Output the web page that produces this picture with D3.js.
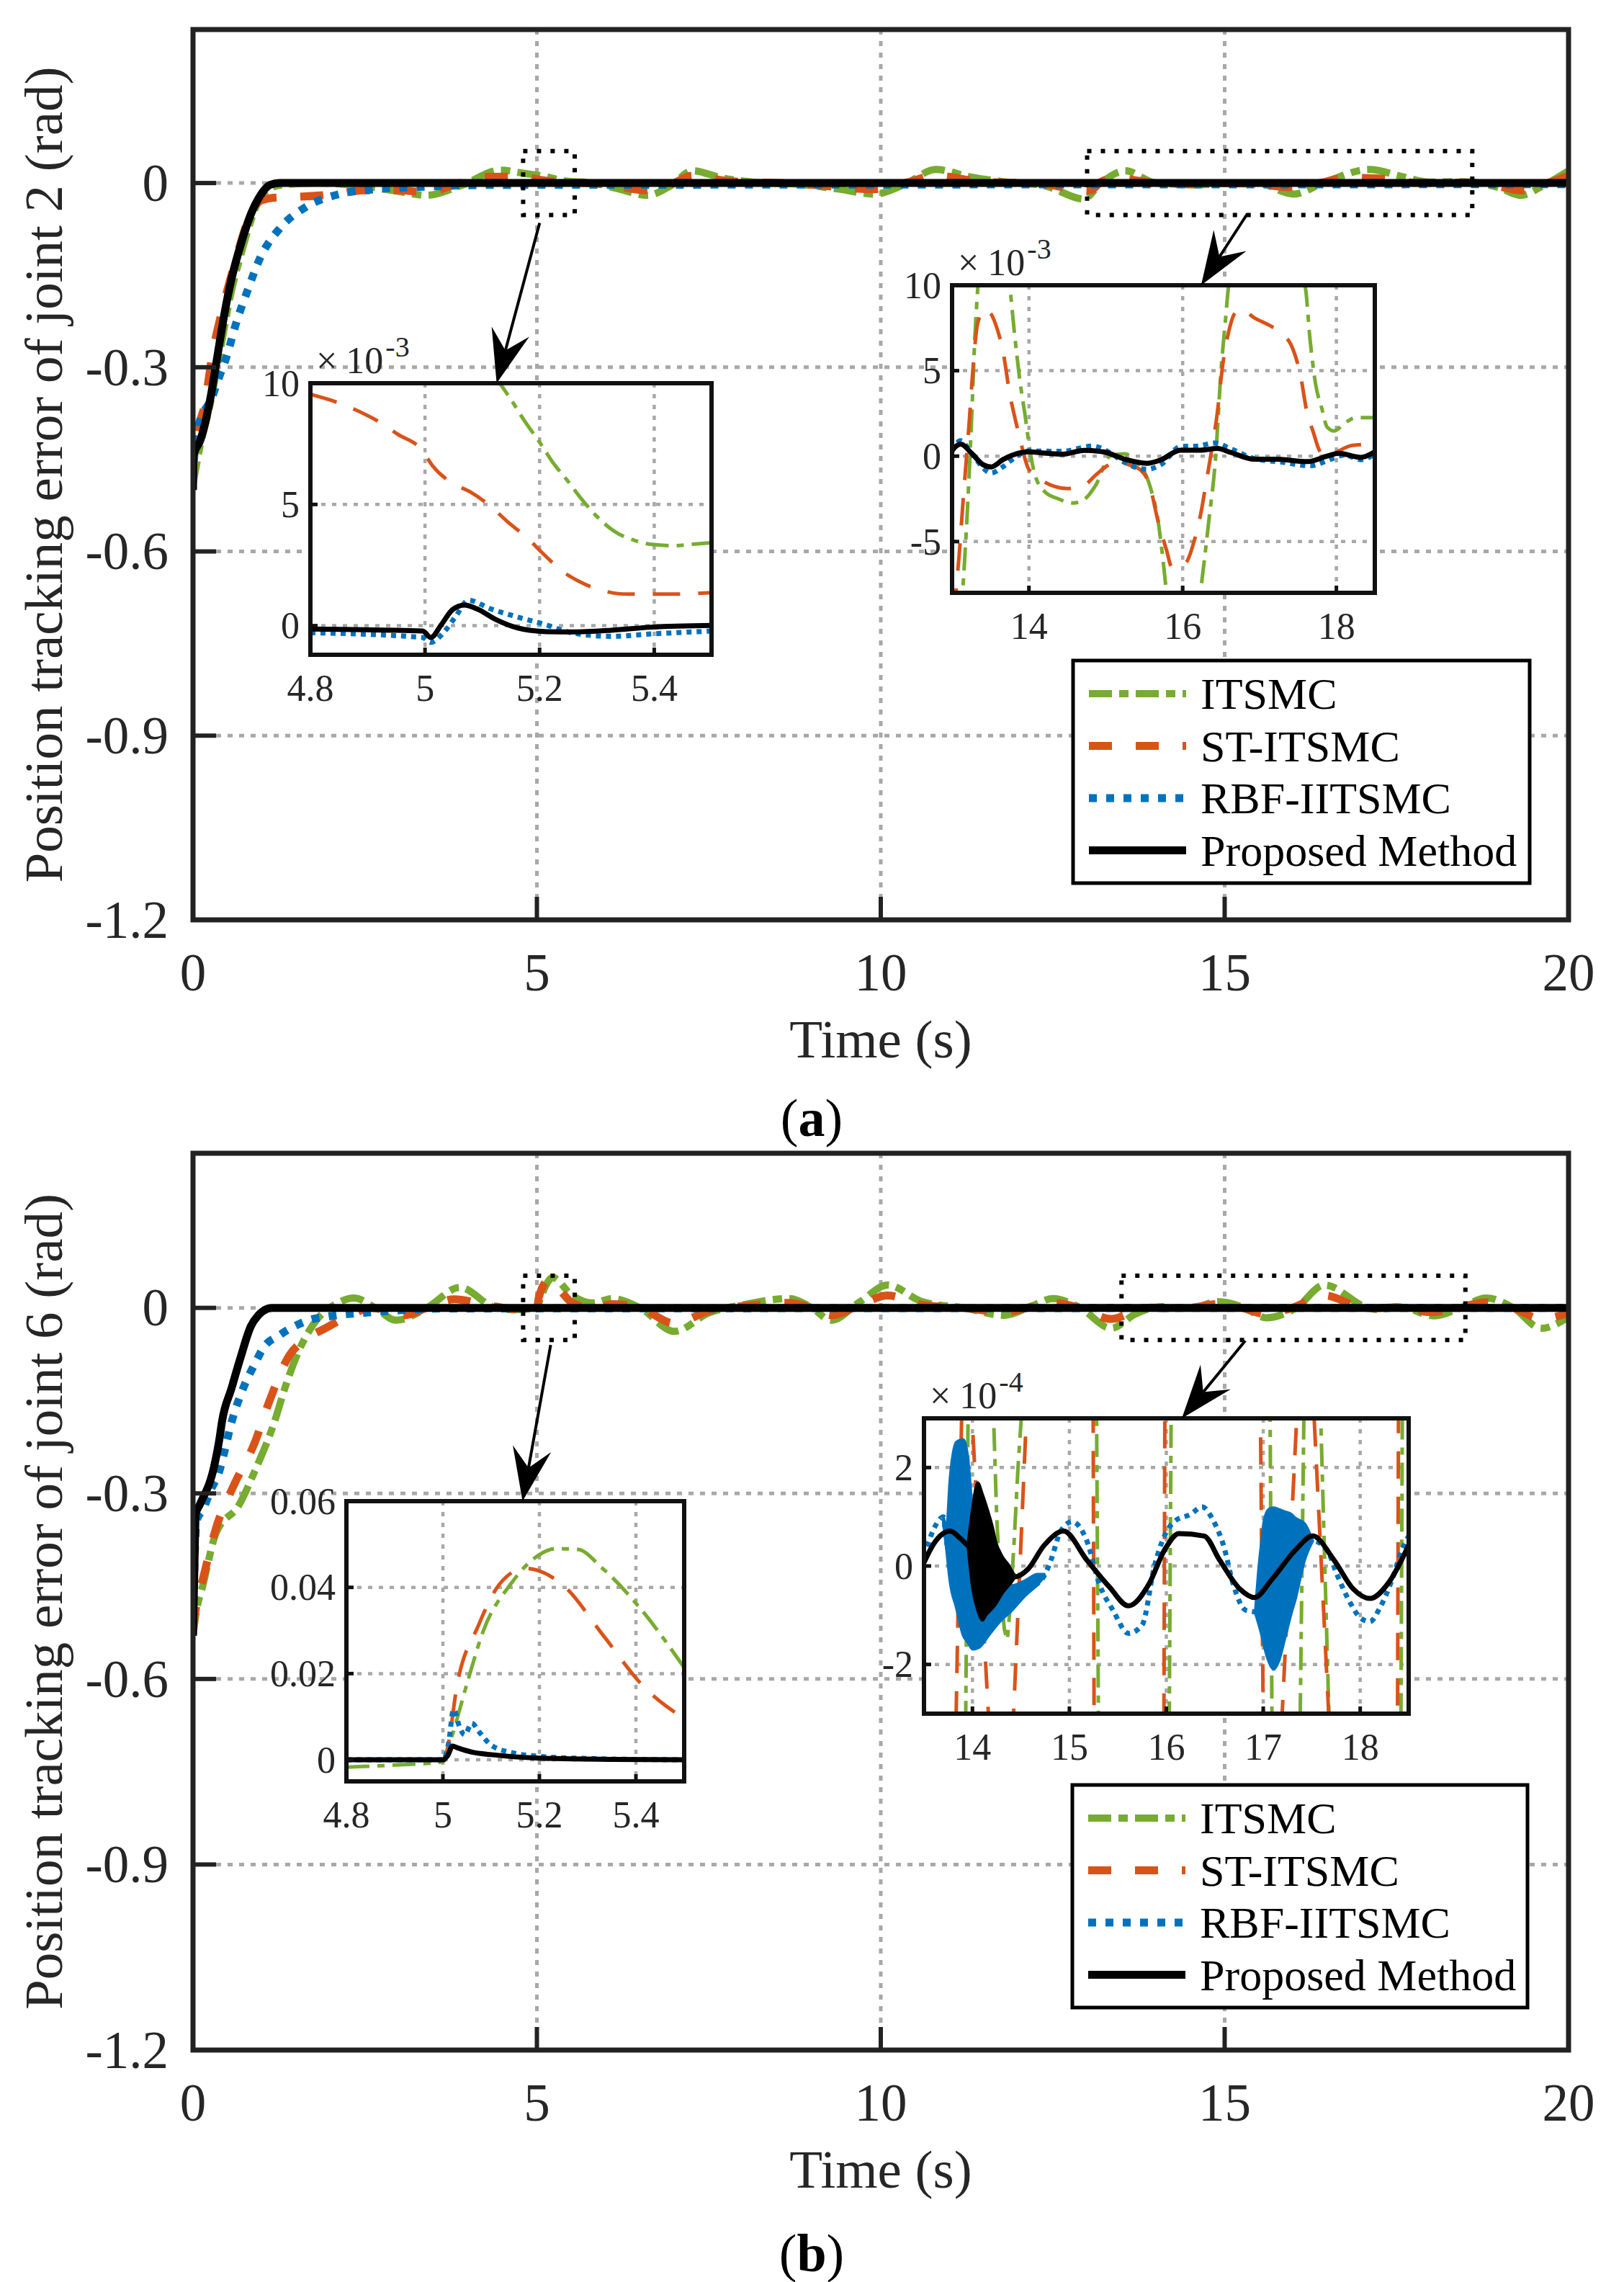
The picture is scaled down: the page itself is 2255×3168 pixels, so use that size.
<!DOCTYPE html>
<html><head><meta charset="utf-8">
<script src="https://cdn.jsdelivr.net/npm/d3@7"></script>
<style>
body{margin:0;background:#fff}
svg{display:block}
text{font-family:"Liberation Serif","Times New Roman",Times,serif;fill:#000}
</style>
</head><body>
<svg id="c" width="2255" height="3168"></svg>
<script>
// ---------------- DATA ----------------
const seriesNames = ["ITSMC", "ST-ITSMC", "RBF-IITSMC", "Proposed Method"];
const xTicksMain = [0, 5, 10, 15, 20];
const yTicksMain = [-1.2, -0.9, -0.6, -0.3, 0];
const xTicksInsetLeft = [4.8, 5, 5.2, 5.4];
const yTicksInsetA1 = [0, 5, 10];
const xTicksInsetA2 = [14, 16, 18];
const yTicksInsetA2 = [-5, 0, 5, 10];
const yTicksInsetB1 = [0, 0.02, 0.04, 0.06];
const xTicksInsetB2 = [14, 15, 16, 17, 18];
const yTicksInsetB2 = [-2, 0, 2];

// Panel (a) main, joint 2 (rad)
const a_ITSMC = [[0,-0.49],[0.1,-0.43],[0.25,-0.36],[0.4,-0.27],[0.55,-0.18],[0.7,-0.115],[0.84,-0.062],[0.95,-0.03],[1.1,-0.01],[1.3,-0.003],[1.8,0.0],[2.4,-0.004],[2.9,-0.012],[3.4,-0.02],[3.9,-0.004],[4.47,0.021],[4.8,0.016],[5.15,0.01],[5.4,0.0033],[5.8,0.0005],[6.2,-0.01],[6.6,-0.02],[6.95,-0.004],[7.26,0.02],[7.7,0.008],[8.2,0.001],[8.8,-0.002],[9.4,-0.01],[9.9,-0.018],[10.35,-0.002],[10.8,0.022],[11.3,0.01],[11.8,0.002],[12.4,-0.005],[12.95,-0.026],[13.2,0.0],[13.55,0.02],[14.0,0.0],[14.6,-0.0027],[15.2,0.0],[15.55,-0.002],[16.0,-0.018],[16.43,0.0],[17.1,0.022],[17.6,0.01],[17.97,0.0015],[18.5,0.0023],[19.0,-0.008],[19.3,-0.02],[19.65,-0.003],[20,0.02]];
const a_ST = [[0,-0.48],[0.03,-0.43],[0.178,-0.356],[0.276,-0.283],[0.42,-0.209],[0.597,-0.135],[0.79,-0.064],[0.9,-0.038],[1.0,-0.028],[1.21,-0.0235],[1.37,-0.023],[2.06,-0.018],[2.48,-0.012],[3.0,-0.012],[3.4,-0.015],[3.8,-0.003],[4.2,0.01],[4.6,0.0105],[4.8,0.0095],[5.2,0.003],[5.5,0.0013],[6.0,-0.002],[6.6,-0.012],[6.95,-0.002],[7.26,0.012],[7.8,0.003],[8.8,-0.001],[9.9,-0.01],[10.35,0.0],[10.8,0.012],[11.4,0.003],[12.4,-0.002],[12.8,-0.01],[13.05,-0.012],[13.2,0.0018],[13.42,0.0086],[13.75,0.0037],[14.0,-0.0007],[14.5,-0.0019],[15.0,-0.0005],[15.4,-0.0008],[15.9,-0.0065],[16.4,0.0004],[16.76,0.0086],[17.3,0.0072],[17.84,0],[18.5,0.0007],[19.0,-0.006],[19.3,-0.012],[19.7,0.0],[20,0.012]];
const a_RBF = [[0,-0.48],[0.02,-0.44],[0.07,-0.40],[0.28,-0.348],[0.39,-0.313],[0.49,-0.282],[0.63,-0.227],[0.79,-0.176],[0.98,-0.121],[1.26,-0.074],[1.64,-0.039],[2.13,-0.018],[2.66,-0.01],[3.35,-0.006],[4.5,-0.003],[20,-0.002]];
const a_PROP = [[0,-0.50],[0.005,-0.445],[0.11,-0.418],[0.25,-0.352],[0.35,-0.285],[0.46,-0.211],[0.56,-0.156],[0.70,-0.098],[0.84,-0.051],[0.98,-0.02],[1.12,-0.003],[1.26,0],[20,0]];

// Panel (a) inset 4.8-5.5 s (x1e-3)
const a1_ITSMC = [[4.8,16],[5.0,12.5],[5.1,10.7],[5.13,10.0],[5.152,9.25],[5.175,8.4],[5.199,7.6],[5.224,6.7],[5.248,6.0],[5.274,5.2],[5.3,4.5],[5.33,3.9],[5.368,3.5],[5.396,3.35],[5.434,3.3],[5.467,3.36],[5.5,3.42]];
const a1_ST = [[4.8,9.54],[4.848,9.2],[4.879,8.9],[4.924,8.35],[4.952,7.9],[4.994,7.26],[5.013,6.6],[5.048,5.87],[5.079,5.52],[5.119,4.83],[5.142,4.33],[5.182,3.54],[5.203,3.04],[5.243,2.19],[5.271,1.8],[5.318,1.4],[5.354,1.3],[5.434,1.3],[5.5,1.36]];
const a1_RBF = [[4.8,-0.29],[4.996,-0.49],[5.01,-0.69],[5.034,-0.24],[5.053,0.36],[5.076,1.05],[5.114,0.7],[5.161,0.36],[5.208,0.06],[5.255,-0.29],[5.325,-0.44],[5.396,-0.34],[5.5,-0.22]];
const a1_PROP = [[4.8,-0.14],[4.996,-0.22],[5.01,-0.49],[5.029,0.06],[5.048,0.66],[5.069,0.85],[5.09,0.7],[5.123,0.26],[5.161,-0.09],[5.208,-0.24],[5.255,-0.26],[5.325,-0.19],[5.396,-0.06],[5.5,0.01]];

// Panel (a) inset 13-18.5 s (x1e-3)
const a2_ITSMC = [[13.0,-12],[13.1,-10.5],[13.147,-7.3],[13.2,-3.1],[13.257,2.5],[13.294,6.7],[13.337,10],[13.45,14],[13.6,14],[13.75,10],[13.807,7.4],[13.88,4.5],[13.954,2.25],[14.01,0.42],[14.08,-1.12],[14.21,-2.1],[14.36,-2.46],[14.58,-2.74],[14.72,-2.53],[14.87,-1.69],[15.055,0],[15.24,0.14],[15.385,-0.28],[15.57,-1.69],[15.68,-3.8],[15.75,-6.3],[15.79,-8],[16.0,-12],[16.2,-9],[16.23,-8],[16.34,-3.8],[16.43,0],[16.5,5.06],[16.56,8.1],[16.6,10],[17.0,14],[17.59,10],[17.66,6.7],[17.73,4.2],[17.81,2.8],[17.88,1.7],[17.97,1.47],[18.1,1.9],[18.25,2.25],[18.5,2.25]];
const a2_ST = [[13.0,-12],[13.05,-8],[13.09,-5.9],[13.147,-2.4],[13.22,1.8],[13.275,5.3],[13.33,7.7],[13.42,8.6],[13.495,8.4],[13.59,7.4],[13.66,6.2],[13.75,3.65],[13.83,2.0],[13.9,0.7],[13.99,-0.7],[14.14,-1.33],[14.32,-1.76],[14.5,-1.9],[14.72,-1.7],[14.87,-1.1],[15.02,-0.56],[15.15,-0.3],[15.3,-0.5],[15.46,-0.84],[15.57,-1.7],[15.68,-3.8],[15.79,-5.5],[15.86,-6.5],[15.94,-6.5],[16.05,-6.2],[16.16,-4.8],[16.23,-3.5],[16.3,-1.7],[16.38,0.42],[16.45,2.5],[16.52,5.3],[16.6,7.3],[16.67,8.3],[16.76,8.6],[16.93,8.1],[17.15,7.6],[17.29,7.2],[17.44,6.2],[17.53,4.8],[17.62,2.5],[17.7,1.4],[17.77,0.42],[17.84,0],[17.95,0.14],[18.21,0.63],[18.5,0.7]];
const a2_RBF = [[13.0,0.28],[13.11,0.9],[13.26,0.1],[13.51,-0.98],[13.66,-0.63],[13.84,0],[13.99,0.3],[14.43,0.28],[14.83,0.59],[15.05,0.21],[15.24,-0.35],[15.53,-0.77],[15.72,-0.49],[15.97,0.56],[16.2,0.59],[16.41,0.77],[16.63,0.42],[16.93,-0.14],[17.29,-0.35],[17.66,-0.56],[17.95,-0.14],[18.1,0.07],[18.32,-0.21],[18.5,0.14]];
const a2_PROP = [[13.0,0.35],[13.11,0.7],[13.26,0.14],[13.4,-0.49],[13.51,-0.63],[13.66,-0.21],[13.84,0.14],[13.99,0.25],[14.2,0.18],[14.43,0.11],[14.72,0.34],[14.98,0.24],[15.24,-0.17],[15.53,-0.42],[15.72,-0.21],[15.97,0.35],[16.23,0.35],[16.45,0.45],[16.63,0.21],[16.93,-0.18],[17.22,-0.18],[17.62,-0.32],[17.88,0],[18.03,0.17],[18.32,-0.07],[18.5,0.25]];

// Panel (b) main, joint 6 (rad)
const b_ITSMC = [[0,-0.53],[0.05,-0.49],[0.14,-0.45],[0.335,-0.364],[0.667,-0.319],[0.91,-0.261],[1.17,-0.189],[1.35,-0.125],[1.54,-0.069],[1.78,-0.022],[2.09,0.007],[2.34,0.016],[2.65,0.0],[2.95,-0.02],[3.4,0.0],[3.88,0.033],[4.4,0.0],[4.7,-0.003],[5.0,0.0],[5.05,0.015],[5.23,0.049],[5.5,0.021],[5.8,0.008],[6.1,0.015],[6.5,0.0],[7.0,-0.038],[7.5,-0.008],[8.0,0.005],[8.66,0.015],[9.0,0.0],[9.28,-0.02],[9.7,0.01],[10.1,0.037],[10.6,0.01],[11.2,0.0],[11.8,-0.012],[12.2,0.003],[12.5,0.015],[12.9,0.0],[13.35,-0.033],[13.7,-0.01],[13.94,0.0],[14.1,0.002],[14.3,0.0],[14.52,0.0],[14.9,0.01],[15.29,0.0],[15.6,-0.016],[16.04,0.0],[16.45,0.037],[17.08,0.0],[17.25,-0.003],[17.39,0.0],[17.5,0.002],[17.63,0.0],[18.05,-0.013],[18.43,0.0],[18.8,0.016],[19.2,0.0],[19.6,-0.033],[20,-0.015]];
const b_ST = [[0,-0.52],[0.05,-0.48],[0.14,-0.44],[0.335,-0.356],[0.597,-0.286],[0.89,-0.22],[1.12,-0.148],[1.4,-0.077],[1.65,-0.05],[1.94,-0.032],[2.3,-0.011],[2.6,0.0],[3.07,-0.012],[3.4,0.0],[3.8,0.014],[4.3,0.004],[4.7,-0.002],[5.0,0.0],[5.03,0.018],[5.17,0.0444],[5.34,0.028],[5.5,0.0092],[5.8,0.0],[6.1,0.006],[6.5,0.0],[7.0,-0.025],[7.5,-0.005],[8.0,0.003],[8.66,0.008],[9.0,0.0],[9.28,-0.012],[9.7,0.005],[10.1,0.02],[10.6,0.005],[11.2,0.0],[11.8,-0.007],[12.2,0.002],[12.5,0.008],[12.9,0.0],[13.35,-0.018],[13.7,-0.005],[13.86,0.0],[13.93,0.0005],[14.08,0.0],[14.3,-0.001],[14.49,0.0],[14.9,0.006],[15.25,0.0],[15.6,-0.01],[15.98,0.0],[16.45,0.02],[17.0,0.0],[17.1,-0.001],[17.27,0.0],[17.42,0.0005],[17.6,0.0],[18.0,-0.007],[18.39,0.0],[18.8,0.009],[19.2,0.0],[19.6,-0.018],[20,-0.008]];
const b_RBF = [[0,-0.51],[0.02,-0.42],[0.05,-0.345],[0.15,-0.325],[0.26,-0.294],[0.38,-0.265],[0.44,-0.24],[0.56,-0.185],[0.73,-0.13],[0.91,-0.088],[1.02,-0.065],[1.26,-0.044],[1.47,-0.03],[1.71,-0.019],[1.96,-0.014],[2.24,-0.01],[2.48,-0.008],[3.0,-0.004],[3.6,-0.001],[20,0]];
const b_PROP = [[0,-0.53],[0.02,-0.42],[0.04,-0.333],[0.1,-0.318],[0.31,-0.255],[0.39,-0.208],[0.42,-0.185],[0.56,-0.13],[0.70,-0.077],[0.84,-0.03],[0.95,-0.012],[1.02,-0.005],[1.15,0],[20,0]];

// Panel (b) inset 4.8-5.5 s (rad)
const b1_ITSMC = [[4.8,-0.0017],[4.9,-0.0012],[5.0,-0.0005],[5.019,0.0056],[5.05,0.0177],[5.084,0.030],[5.14,0.0407],[5.19,0.0468],[5.236,0.049],[5.28,0.0488],[5.33,0.0445],[5.41,0.035],[5.5,0.0214]];
const b1_ST = [[4.8,0.0],[5.0,0.0],[5.008,0.002],[5.03,0.0177],[5.073,0.031],[5.117,0.0407],[5.17,0.0444],[5.247,0.0407],[5.334,0.0286],[5.41,0.0177],[5.505,0.0092]];
const b1_RBF = [[4.8,0],[5.0,0],[5.012,0.004],[5.022,0.0117],[5.035,0.0075],[5.045,0.0058],[5.06,0.0085],[5.075,0.0065],[5.1,0.0034],[5.15,0.0015],[5.2,0.0008],[5.3,0.0003],[5.5,0.0]];
const b1_PROP = [[4.8,0],[5.0,0],[5.01,0.001],[5.02,0.0032],[5.03,0.0028],[5.06,0.0018],[5.1,0.0012],[5.2,0.0004],[5.35,0.0001],[5.5,0]];

// Panel (b) inset 13.5-18.5 s (x1e-4)
const b2_ITSMC = [[13.5,-8],[13.92,-8],[13.93,-3.2],[13.955,3.2],[13.97,8],[14.2,8],[14.215,3.2],[14.25,1.0],[14.29,-0.5],[14.33,-1.3],[14.36,-1.5],[14.39,-0.8],[14.43,0.5],[14.47,2.0],[14.51,3.2],[14.53,8],[15.27,8],[15.28,3.2],[15.30,-3.2],[15.31,-8],[16.02,-8],[16.03,-3.2],[16.05,3.2],[16.06,8],[17.06,8],[17.07,3.2],[17.09,-3.2],[17.1,-8],[17.36,-8],[17.38,-3.2],[17.42,3.2],[17.43,8],[17.58,8],[17.59,3.2],[17.68,-3.2],[17.69,-8],[18.41,-8],[18.42,-3.2],[18.435,3.2],[18.45,8],[18.5,8]];
const b2_ST = [[13.5,-8],[13.82,-8],[13.83,-3.2],[13.89,3.2],[13.9,8],[13.98,8],[13.99,3.2],[14.17,-3.2],[14.18,-8],[14.41,-8],[14.42,-3.2],[14.56,3.2],[14.57,8],[15.24,8],[15.245,3.2],[15.255,-3.2],[15.26,-8],[15.97,-8],[15.975,-3.2],[15.985,3.2],[15.99,8],[16.96,8],[16.97,3.2],[17.0,-3.2],[17.01,-8],[17.18,-8],[17.19,-3.2],[17.35,3.2],[17.36,8],[17.51,8],[17.52,3.2],[17.68,-3.2],[17.69,-8],[18.38,-8],[18.385,-3.2],[18.395,3.2],[18.4,8],[18.5,8]];
const b2_RBF = [[13.5,0.2],[13.55,0.5],[13.63,0.86],[13.7,1.0],[13.735,0.45],[13.85,0.4],[14.0,-0.2],[14.2,-0.6],[14.4,-0.65],[14.6,-0.45],[14.74,-0.2],[14.81,0.12],[14.91,0.71],[15.03,0.9],[15.18,0.51],[15.31,-0.37],[15.45,-0.9],[15.61,-1.37],[15.75,-1.2],[15.88,0.02],[15.98,0.61],[16.08,0.9],[16.25,1.05],[16.37,1.2],[16.49,0.9],[16.59,0.42],[16.69,-0.37],[16.82,-0.9],[16.92,-0.93],[17.2,-0.4],[17.51,0.51],[17.66,0.32],[17.76,-0.17],[17.9,-0.76],[18.0,-1.05],[18.1,-1.13],[18.2,-0.86],[18.33,-0.27],[18.43,0.32],[18.5,0.61]];
const b2_RBF_chatter1 = [[13.7,0.9,1.0],[13.735,0.3,0.8],[13.768,-0.3,1.74],[13.836,-0.86,2.52],[13.903,-1.4,2.57],[13.953,-1.55,2.18],[14.003,-1.69,1.0],[14.07,-1.65,-0.2],[14.17,-1.4,-0.3],[14.272,-1.15,-0.38],[14.406,-0.9,-0.4],[14.54,-0.61,-0.3],[14.674,-0.37,-0.17],[14.74,-0.22,-0.17]];
const b2_RBF_chatter2 = [[16.92,-0.96,-0.9],[16.956,-1.2,0.0],[16.99,-1.45,0.6],[17.007,-1.6,0.9],[17.057,-1.94,1.15],[17.107,-2.1,1.18],[17.158,-1.94,1.15],[17.225,-1.45,1.1],[17.29,-0.95,1.05],[17.326,-0.71,0.98],[17.426,0.12,0.86],[17.51,0.51,0.51]];
const b2_PROP = [[13.5,0.07],[13.6,0.45],[13.77,0.71],[13.88,0.55],[13.95,0.42],[14.1,0.2],[14.25,-0.1],[14.44,-0.22],[14.57,-0.07],[14.74,0.42],[14.94,0.71],[15.18,0.12],[15.41,-0.42],[15.61,-0.81],[15.82,-0.37],[15.98,0.32],[16.13,0.66],[16.39,0.61],[16.55,0.12],[16.76,-0.47],[16.91,-0.64],[17.09,-0.27],[17.33,0.32],[17.51,0.61],[17.73,0.12],[17.93,-0.47],[18.1,-0.66],[18.3,-0.32],[18.5,0.42]];
const b2_PROP_chatter = [[13.953,0.42,0.42],[14.003,-0.47,1.2],[14.054,-0.9,1.69],[14.104,-1.1,1.45],[14.138,-1.0,1.25],[14.205,-0.86,0.8],[14.238,-0.78,0.51],[14.305,-0.56,0.2],[14.372,-0.4,0.02],[14.406,-0.32,-0.1],[14.44,-0.22,-0.2]];

// ---------------- STYLE / LAYOUT ----------------
const COL = ["#77AC30", "#D95319", "#0072BD", "#000000"];
const MAIN_STYLE = [
  {w:10, dash:"32,10,13,10"},
  {w:11, dash:"32,33"},
  {w:11, dash:"11,13"},
  {w:11, dash:null}
];
const INSET_STYLE = [
  {w:5, dash:"32,11,10,11"},
  {w:5, dash:"38,25"},
  {w:7, dash:"7,7"},
  {w:7, dash:null}
];
const GRID = "#a8a8a8";
const svg = d3.select("#c");
let clipN = 0;

function makeAxes(box, xd, yd, xt, yt, opt){
  const x = d3.scaleLinear().domain(xd).range([box.x0, box.x1]);
  const y = d3.scaleLinear().domain(yd).range([box.y1, box.y0]);
  const g = svg.append("g");
  if (opt.bg) g.append("rect").attr("x", box.x0).attr("y", box.y0)
     .attr("width", box.x1-box.x0).attr("height", box.y1-box.y0).attr("fill", "#fff");
  g.selectAll(null).data(xt).join("line")
    .attr("x1", d=>x(d)).attr("x2", d=>x(d)).attr("y1", box.y0).attr("y2", box.y1)
    .attr("stroke", GRID).attr("stroke-width", opt.gw).attr("stroke-dasharray", opt.gd);
  g.selectAll(null).data(yt).join("line")
    .attr("y1", d=>y(d)).attr("y2", d=>y(d)).attr("x1", box.x0).attr("x2", box.x1)
    .attr("stroke", GRID).attr("stroke-width", opt.gw).attr("stroke-dasharray", opt.gd);
  const id = "clip" + (clipN++);
  g.append("clipPath").attr("id", id).append("rect")
    .attr("x", box.x0).attr("y", box.y0).attr("width", box.x1-box.x0).attr("height", box.y1-box.y0);
  const plot = g.append("g").attr("clip-path", `url(#${id})`);
  return {g, plot, x, y, box, xt, yt, opt};
}

function finishAxes(ax){
  const {g, x, y, box, xt, yt, opt} = ax;
  g.append("rect").attr("x", box.x0).attr("y", box.y0)
    .attr("width", box.x1-box.x0).attr("height", box.y1-box.y0)
    .attr("fill", "none").attr("stroke", opt.frame).attr("stroke-width", opt.fw);
  g.selectAll(null).data(xt).join("line")
    .attr("x1", d=>x(d)).attr("x2", d=>x(d)).attr("y1", box.y1).attr("y2", box.y1 - opt.tl)
    .attr("stroke", opt.frame).attr("stroke-width", opt.tw);
  g.selectAll(null).data(yt).join("line")
    .attr("y1", d=>y(d)).attr("y2", d=>y(d)).attr("x1", box.x0).attr("x2", box.x0 + opt.tl)
    .attr("stroke", opt.frame).attr("stroke-width", opt.tw);
  g.selectAll(null).data(xt).join("text")
    .attr("x", d=>x(d)).attr("y", box.y1 + opt.xlOff)
    .attr("text-anchor", "middle").attr("font-size", opt.fs).style("fill", "#262626")
    .text(d=>String(d));
  g.selectAll(null).data(yt).join("text")
    .attr("x", box.x0 - opt.ylGap).attr("y", d=>y(d)).attr("dy", "0.34em")
    .attr("text-anchor", "end").attr("font-size", opt.fs).style("fill", "#262626")
    .text(d=>String(d));
}

function drawSeries(ax, data, i, style, curve){
  const line = d3.line().x(d=>ax.x(d[0])).y(d=>ax.y(d[1])).curve(curve || d3.curveMonotoneX);
  const p = ax.plot.append("path").attr("d", line(data)).attr("fill", "none")
    .attr("stroke", COL[i]).attr("stroke-width", style[i].w)
    .attr("stroke-linejoin", "round");
  if (style[i].dash) p.attr("stroke-dasharray", style[i].dash);
}

function drawChatter(ax, data, color){
  const area = d3.area().x(d=>ax.x(d[0])).y0(d=>ax.y(d[1])).y1(d=>ax.y(d[2])).curve(d3.curveMonotoneX);
  ax.plot.append("path").attr("d", area(data)).attr("fill", color)
    .attr("stroke", color).attr("stroke-width", 4).attr("stroke-linejoin", "round");
}

function zoomBox(ax, x0, x1, y0, y1){
  ax.g.append("rect").attr("x", ax.x(x0)).attr("y", ax.y(y1))
    .attr("width", ax.x(x1)-ax.x(x0)).attr("height", ax.y(y0)-ax.y(y1))
    .attr("fill", "none").attr("stroke", "#000").attr("stroke-width", 6)
    .attr("stroke-dasharray", "6,13");
}

function arrow(sx, sy, tx, ty){
  const dx = tx-sx, dy = ty-sy, len = Math.hypot(dx, dy);
  const ux = dx/len, uy = dy/len, nx = -uy, ny = ux;
  const L = 74, W = 27, N = 47;
  svg.append("line").attr("x1", sx).attr("y1", sy).attr("x2", tx-N*ux).attr("y2", ty-N*uy)
    .attr("stroke", "#000").attr("stroke-width", 4);
  const pts = [[tx, ty],[tx-L*ux+W*nx, ty-L*uy+W*ny],[tx-N*ux, ty-N*uy],[tx-L*ux-W*nx, ty-L*uy-W*ny]];
  svg.append("path").attr("d", "M" + pts.map(p=>p.join(",")).join("L") + "Z").attr("fill", "#000");
}

function exponent(box, txt){
  const t = svg.append("text").attr("x", box.x0 + 8).attr("y", box.y0 - 14).attr("font-size", 52)
    .style("fill", "#262626");
  t.append("tspan").text("\u00D7");
  t.append("tspan").attr("dx", 12).text("10");
  t.append("tspan").attr("dx", 3).attr("dy", -23).attr("font-size", 40).text(txt);
}

function legend(box){
  const g = svg.append("g");
  g.append("rect").attr("x", box.x0).attr("y", box.y0).attr("width", box.x1-box.x0).attr("height", box.y1-box.y0)
    .attr("fill", "#fff").attr("stroke", "#000").attr("stroke-width", 5);
  seriesNames.forEach((name, i)=>{
    const cy = box.y0 + 46 + i*72.5;
    const l = g.append("line").attr("x1", box.x0+22).attr("x2", box.x0+157).attr("y1", cy).attr("y2", cy)
      .attr("stroke", COL[i]).attr("stroke-width", MAIN_STYLE[i].w);
    if (MAIN_STYLE[i].dash) l.attr("stroke-dasharray", MAIN_STYLE[i].dash);
    g.append("text").attr("x", box.x0+177).attr("y", cy+21).attr("font-size", 62).text(name);
  });
}

const mainOpt = {bg:false, gw:5, gd:"7,9", frame:"#222", fw:7, tl:32, tw:6, fs:73, xlOff:98, ylGap:34};
const insetOpt = {bg:true, gw:4.5, gd:"6,9", frame:"#111", fw:6, tl:10, tw:5, fs:52, xlOff:64, ylGap:15};

function panel(cfg){
  const ax = makeAxes(cfg.box, [0,20], [-1.2,0.25], xTicksMain, yTicksMain, mainOpt);
  cfg.series.forEach((s,i)=>drawSeries(ax, s, i, MAIN_STYLE));
  finishAxes(ax);
  svg.append("text").attr("x", (cfg.box.x0+cfg.box.x1)/2).attr("y", cfg.box.y1 + 191)
    .attr("text-anchor", "middle").attr("font-size", 75).style("fill", "#262626").text("Time (s)");
  svg.append("text").attr("transform", `translate(86,${(cfg.box.y0+cfg.box.y1)/2}) rotate(-90)`)
    .attr("text-anchor", "middle").attr("font-size", 75).style("fill", "#262626").text(cfg.ylabel);
  const cap = svg.append("text").attr("x", 1127).attr("y", cfg.capY).attr("text-anchor", "middle").attr("font-size", 74);
  cap.append("tspan").text("(");
  cap.append("tspan").attr("font-weight", "bold").text(cfg.cap);
  cap.append("tspan").text(")");
  zoomBox(ax, 4.8, 5.55, -0.052, 0.052);
  zoomBox(ax, cfg.bigBox[0], cfg.bigBox[1], -0.052, 0.052);
  const i1 = makeAxes(cfg.in1.box, [4.8,5.5], cfg.in1.yd, xTicksInsetLeft, cfg.in1.yt, insetOpt);
  cfg.in1.series.forEach((s,i)=>drawSeries(i1, s, i, INSET_STYLE));
  finishAxes(i1);
  const i2 = makeAxes(cfg.in2.box, cfg.in2.xd, cfg.in2.yd, cfg.in2.xt, cfg.in2.yt, insetOpt);
  cfg.in2.series.forEach((s,i)=>{
    if (i===2 && cfg.in2.rbfChatter) cfg.in2.rbfChatter.forEach(c=>drawChatter(i2, c, COL[2]));
    if (i===3 && cfg.in2.propChatter) drawChatter(i2, cfg.in2.propChatter, COL[3]);
    drawSeries(i2, s, i, INSET_STYLE, cfg.in2.linear && i<2 ? d3.curveLinear : d3.curveMonotoneX);
  });
  finishAxes(i2);
  if (cfg.in1.exp) exponent(cfg.in1.box, cfg.in1.exp);
  if (cfg.in2.exp) exponent(cfg.in2.box, cfg.in2.exp);
  legend(cfg.legend);
  arrow(ax.x(cfg.arr1[0]), ax.y(cfg.arr1[1]), i1.x(cfg.arr1[2]), cfg.in1.box.y0);
  arrow(ax.x(cfg.arr2[0]), ax.y(cfg.arr2[1]), i2.x(cfg.arr2[2]), cfg.in2.box.y0);
}

panel({
  box:{x0:268, x1:2178, y0:41, y1:1277},
  series:[a_ITSMC, a_ST, a_RBF, a_PROP],
  ylabel:"Position tracking error of joint 2 (rad)",
  cap:"a", capY:1577,
  bigBox:[13, 18.6],
  in1:{box:{x0:431, x1:988, y0:532, y1:909}, yd:[-1.2,10], yt:yTicksInsetA1,
       series:[a1_ITSMC, a1_ST, a1_RBF, a1_PROP], exp:"-3"},
  in2:{box:{x0:1322, x1:1909, y0:396, y1:823}, xd:[13,18.5], yd:[-8,10], xt:xTicksInsetA2, yt:yTicksInsetA2,
       series:[a2_ITSMC, a2_ST, a2_RBF, a2_PROP], exp:"-3"},
  legend:{x0:1490, y0:917, x1:2124, y1:1226},
  arr1:[5.04, -0.065, 5.125],
  arr2:[15.33, -0.05, 16.24]
});

panel({
  box:{x0:268, x1:2178, y0:1601, y1:2846},
  series:[b_ITSMC, b_ST, b_RBF, b_PROP],
  ylabel:"Position tracking error of joint 6 (rad)",
  cap:"b", capY:3153,
  bigBox:[13.5, 18.5],
  in1:{box:{x0:481, x1:950, y0:2084, y1:2473}, yd:[-0.005,0.06], yt:yTicksInsetB1,
       series:[b1_ITSMC, b1_ST, b1_RBF, b1_PROP], exp:null},
  in2:{box:{x0:1283, x1:1956, y0:1969, y1:2379}, xd:[13.5,18.5], yd:[-3,3], xt:xTicksInsetB2, yt:yTicksInsetB2,
       series:[b2_ITSMC, b2_ST, b2_RBF, b2_PROP], exp:"-4", linear:true,
       rbfChatter:[b2_RBF_chatter1, b2_RBF_chatter2], propChatter:b2_PROP_chatter},
  legend:{x0:1489, y0:2478, x1:2121, y1:2787},
  arr1:[5.2, -0.06, 5.165],
  arr2:[15.3, -0.053, 16.16]
});
</script>
</body></html>
